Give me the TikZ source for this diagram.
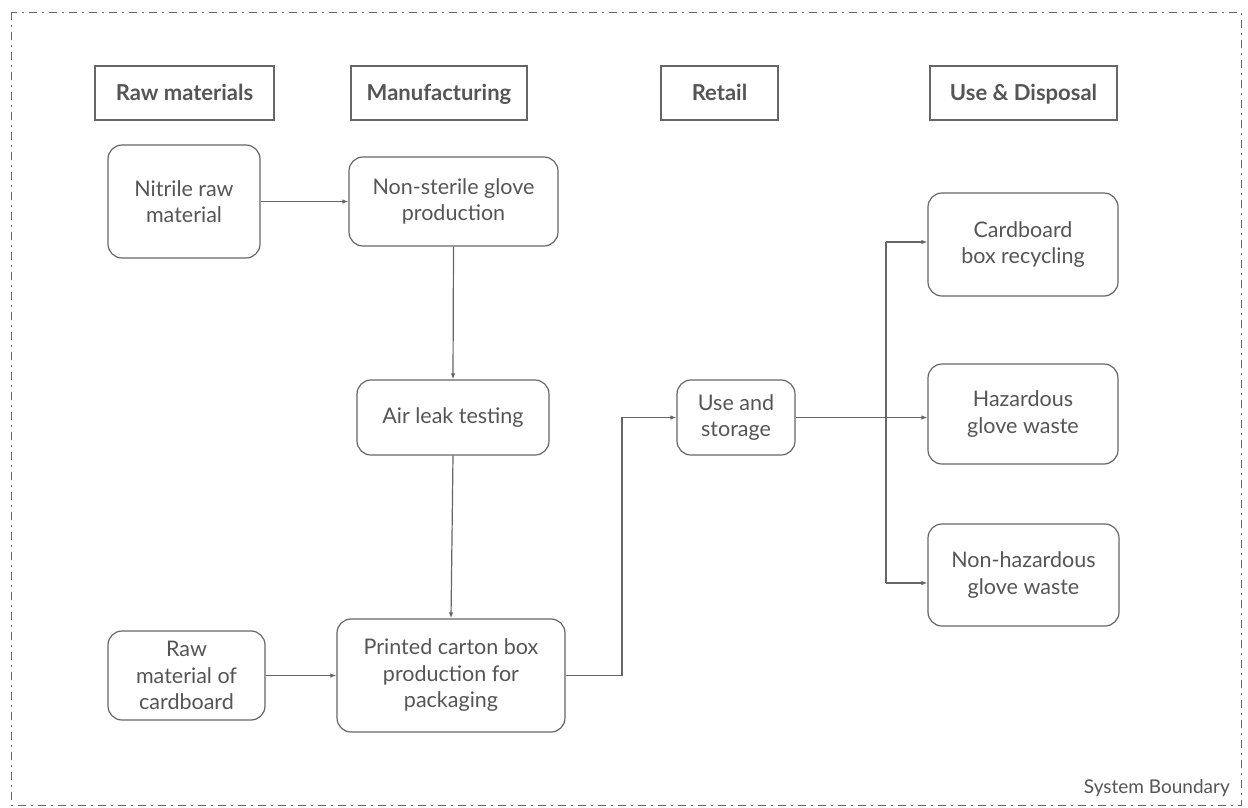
\documentclass[tikz,border=0pt]{standalone}
\usepackage{fontspec}
\setmainfont{Lato}
\usetikzlibrary{arrows.meta}
\definecolor{ln}{HTML}{666666}
\definecolor{tx}{HTML}{555555}
\begin{document}
\begin{tikzpicture}[x=1pt,y=-1pt,
  hdr/.style={draw=ln,line width=1.2pt,text=tx,font=\fontsize{22}{26}\selectfont\bfseries,align=center,inner sep=0pt,text height=19pt,text depth=5pt},
  proc/.style={draw=ln,line width=1.2pt,rounded corners=14pt,text=tx,font=\fontsize{21.5}{26.5}\selectfont,align=center,inner sep=0pt},
  conn/.style={draw=ln,line width=1.2pt},
  arr/.style={conn,-{Latex[length=6pt,width=4.5pt]}}]
\useasboundingbox (0,0) rectangle (1248,807);
\draw[ln,line width=1pt,dash pattern=on 8pt off 5pt on 2pt off 5pt] (11,12) rectangle (1241,805);
% headers
\node[hdr,minimum width=179pt,minimum height=54pt] (h1) at (184.5,93) {Raw materials};
\node[hdr,minimum width=176pt,minimum height=54pt] (h2) at (439,93) {Manufacturing};
\node[hdr,minimum width=117pt,minimum height=54pt] (h3) at (719.5,93) {Retail};
\node[hdr,minimum width=187pt,minimum height=54pt] (h4) at (1023.5,93) {Use \& Disposal};
% process boxes
\node[proc,minimum width=152pt,minimum height=113pt] (nit) at (184,201.5) {Nitrile raw\\material};
\node[proc,minimum width=209pt,minimum height=89pt] (glove) at (453.5,201.5) {Non-sterile glove\\production};
\node[proc,minimum width=192pt,minimum height=75pt] (air) at (453,417.5) {Air leak testing};
\node[proc,minimum width=157pt,minimum height=89pt] (card) at (186.5,675.5) {Raw\\material of\\cardboard};
\node[proc,minimum width=228pt,minimum height=113pt] (box) at (451,675.5) {Printed carton box\\production for\\packaging};
\node[proc,minimum width=118pt,minimum height=75pt] (use) at (736,417.5) {Use and\\storage};
\node[proc,minimum width=190pt,minimum height=103pt] (rec) at (1023,244.5) {Cardboard\\box recycling};
\node[proc,minimum width=190pt,minimum height=100pt] (haz) at (1023,414) {Hazardous\\glove waste};
\node[proc,minimum width=191pt,minimum height=102pt] (nhaz) at (1023.5,575) {Non-hazardous\\glove waste};
\node[text=tx,font=\fontsize{19}{22}\selectfont,anchor=east,inner sep=0pt] (sb) at (1230,788) {System Boundary};
% connectors
\draw[arr] (nit.east |- glove.west) -- (glove.west);
\draw[arr] (glove.south) -- (air.north);
\draw[arr] (air.south) -- (box.north);
\draw[arr] (card.east) -- (box.west);
\coordinate (b1) at (622,675.5);
\draw[arr] (box.east) -- (b1) |- (use.west);
\coordinate (tr) at (886,417.5);
\draw[arr] (use.east) -- (haz.west |- tr);
\coordinate (tt) at (886,242);
\coordinate (tb) at (886,583);
\draw[conn] (tt) -- (tb);
\draw[arr] (tt) -- (rec.west |- tt);
\draw[arr] (tb) -- (nhaz.west |- tb);
\end{tikzpicture}
\end{document}
